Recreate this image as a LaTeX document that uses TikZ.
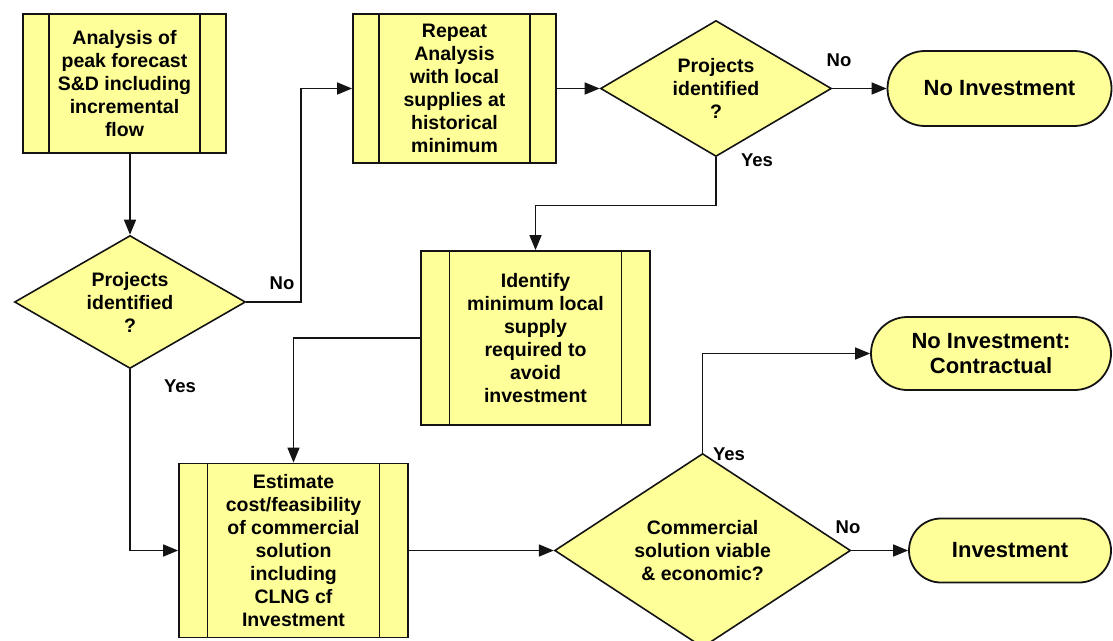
\documentclass[tikz,border=0pt]{standalone}
\usepackage{fontspec}
\setmainfont{Liberation Sans}
\usetikzlibrary{shapes.geometric,shapes.misc,arrows.meta,calc}
\definecolor{boxfill}{HTML}{FFFF99}
\definecolor{edge}{HTML}{141414}
\begin{document}
\begin{tikzpicture}[x=1pt,y=-1pt,
  txt/.style={font=\bfseries\fontsize{19.5}{23}\selectfont, align=center},
  proc/.style={rectangle, draw=edge, line width=1.8pt, fill=boxfill, inner sep=0pt, txt,
    path picture={\draw[edge,line width=1.8pt]
      ([xshift=#1]path picture bounding box.north west) -- ([xshift=#1]path picture bounding box.south west)
      ([xshift=-#1]path picture bounding box.north east) -- ([xshift=-#1]path picture bounding box.south east);}},
  proc/.default=26pt,
  dia/.style={diamond, draw=edge, line width=1.6pt, fill=boxfill, inner sep=0pt},
  term/.style={rounded rectangle, draw=edge, line width=1.8pt, fill=boxfill, inner sep=0pt,
    font=\bfseries\fontsize{22}{25}\selectfont, align=center},
  lbl/.style={font=\bfseries\fontsize{18.5}{22}\selectfont},
  arr/.style={draw=edge, line width=1.6pt, -{Triangle[length=15pt,width=12pt]}}
]
\useasboundingbox (0,0) rectangle (1113,640);

% process boxes
\node[proc=26pt, minimum width=203pt, minimum height=139pt] (b1) at (124.5,83.5)
  {Analysis of\\peak forecast\\S\&D including\\incremental\\flow};
\node[proc=26pt, minimum width=203pt, minimum height=149pt] (b2) at (454.5,88.5)
  {Repeat\\Analysis\\with local\\supplies at\\historical\\minimum};
\node[proc=28.5pt, minimum width=229pt, minimum height=174pt] (b3) at (535.5,338)
  {Identify\\minimum local\\supply\\required to\\avoid\\investment};
\node[proc=28.5pt, minimum width=229pt, minimum height=174pt] (b4) at (293.5,550.5)
  {Estimate\\cost/feasibility\\of commercial\\solution\\including\\CLNG cf\\Investment};

% decisions
\node[dia, minimum width=231pt, minimum height=133pt] (d1) at (130,302) {};
\node[txt] (d1t) at (130,302) {Projects\\identified\\?};
\node[dia, minimum width=231pt, minimum height=136pt] (d2) at (716,88.5) {};
\node[txt] (d2t) at (716,88.5) {Projects\\identified\\?};
\node[dia, minimum width=296pt, minimum height=194pt] (d3) at (702.6,550.5) {};
\node[txt] (d3t) at (702.6,550.5) {Commercial\\solution viable\\\& economic?};

% terminals
\node[term, minimum width=224pt, minimum height=75pt] (t1) at (999.5,88.5) {No Investment};
\node[term, minimum width=240pt, minimum height=73pt] (t2) at (991,353.5) {No Investment:\\Contractual};
\node[term, minimum width=202pt, minimum height=64pt] (t3) at (1010,550.5) {Investment};

% connectors
\draw[arr] (b1.south -| d1.north) -- (d1.north);
\draw[arr] (d1.east) -- ++(54.5,0) |- (b2.west);
\draw[arr] (b2.east) -- (d2.west);
\draw[arr] (d2.east) -- (t1.west);
\draw[arr] (d2.south) -- ++(0,48) -| (b3.north);
\draw[arr] (b3.west) -| (b4.north);
\draw[arr] (d1.south) |- (b4.west);
\draw[arr] (b4.east) -- (d3.west);
\draw[arr] (d3.north) |- (t2.west);
\draw[arr] (d3.east) -- (t3.west);

% labels
\node[lbl] (l1) at (282,283) {No};
\node[lbl] (l2) at (180,386) {Yes};
\node[lbl] (l3) at (839,60) {No};
\node[lbl] (l4) at (757,160) {Yes};
\node[lbl] (l5) at (729,454) {Yes};
\node[lbl] (l6) at (848,527) {No};
\end{tikzpicture}
\end{document}
